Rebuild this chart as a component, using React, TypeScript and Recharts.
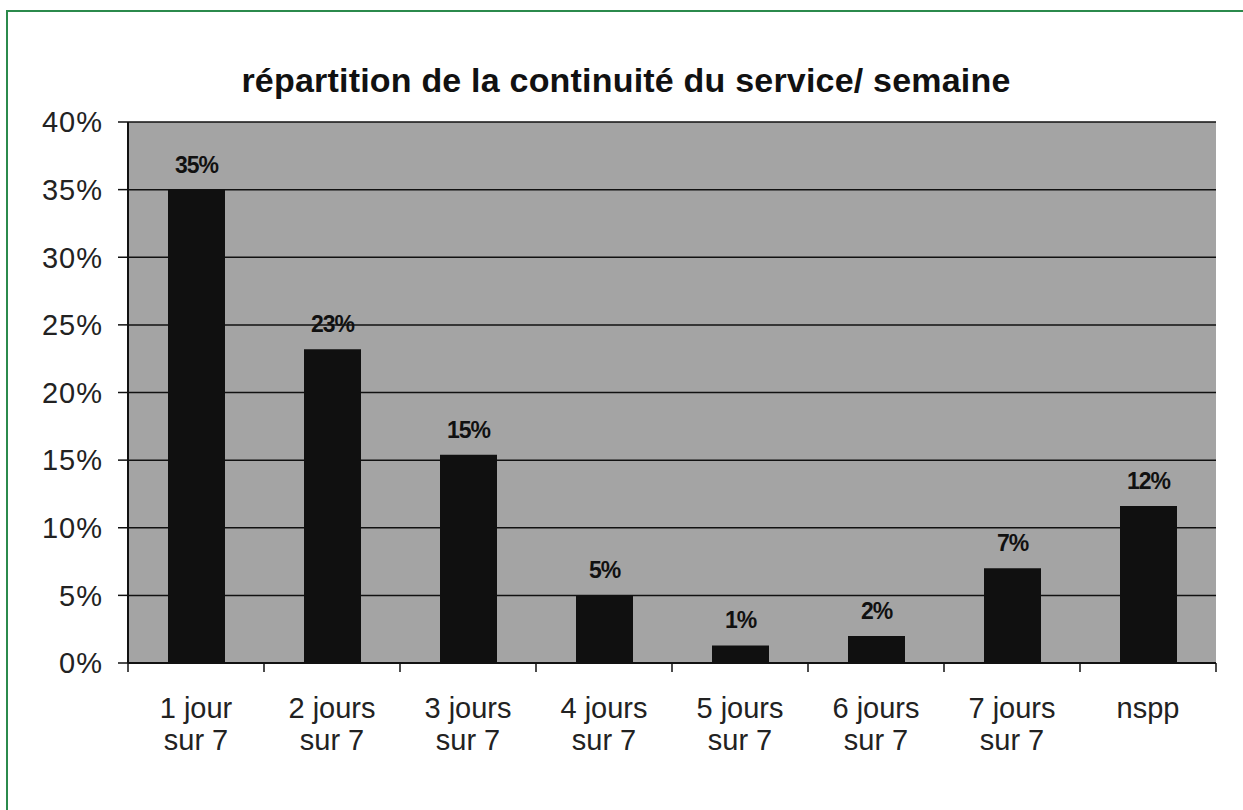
import React from "react";
import { BarChart, Bar, XAxis, YAxis, CartesianGrid, LabelList } from "recharts";

const categories = [
  ["1 jour", "sur 7"],
  ["2 jours", "sur 7"],
  ["3 jours", "sur 7"],
  ["4 jours", "sur 7"],
  ["5 jours", "sur 7"],
  ["6 jours", "sur 7"],
  ["7 jours", "sur 7"],
  ["nspp", ""],
];
const values = [35, 23.2, 15.4, 5, 1.3, 2, 7, 11.6];
const yTicks = [0, 5, 10, 15, 20, 25, 30, 35, 40];
const title = "répartition de la continuité du service/ semaine";

const data = categories.map((c, i) => ({ name: c.join(" "), value: values[i] }));

const FONT = "'Liberation Sans', Arial, sans-serif";

const CatTick = (props: any) => {
  const { x, y, payload, index } = props;
  const i = payload.index ?? index;
  const c = categories[i] || ["", ""];
  const half = payload.offset || 0;
  return (
    <g>
      <line x1={x - half} x2={x - half} y1={y} y2={y + 9} stroke="#111" strokeWidth={1.5} />
      {i === categories.length - 1 && (
        <line x1={x + half} x2={x + half} y1={y} y2={y + 9} stroke="#111" strokeWidth={1.5} />
      )}
      <text x={x} y={y + 55} textAnchor="middle" fontFamily={FONT} fontSize={29} fill="#222">
        {c[0]}
      </text>
      <text x={x} y={y + 87} textAnchor="middle" fontFamily={FONT} fontSize={29} fill="#222">
        {c[1]}
      </text>
    </g>
  );
};

export default function App() {
  return (
    <div style={{ position: "absolute", left: 0, top: 0, width: 1243, height: 810, overflow: "hidden", background: "#fff" }}>
      <div style={{ position: "absolute", left: 6, top: 10, width: 1300, height: 900, border: "2px solid #2b8a4c" }} />
      <svg style={{ position: "absolute", left: 0, top: 0 }} width={1243} height={810}>
        <text x={626} y={92} textAnchor="middle" fontFamily={FONT} fontWeight="bold" fontSize={34} letterSpacing={0.2} fill="#111">
          {title}
        </text>
      </svg>
      <div style={{ position: "absolute", left: 0, top: 0 }}>
        <BarChart width={1243} height={810} data={data} margin={{ top: 122, right: 27, bottom: 47, left: 0 }} barSize={57}>
          <CartesianGrid vertical={false} stroke="#111" strokeWidth={1.5} fill="#a4a4a4" fillOpacity={1} />
          <XAxis
            dataKey="name"
            interval={0}
            tick={<CatTick />}
            tickLine={false}
            tickSize={0}
            tickMargin={0}
            axisLine={{ stroke: "#111", strokeWidth: 2 }}
            height={100}
          />
          <YAxis
            domain={[0, 40]}
            ticks={yTicks}
            interval={0}
            tickFormatter={(v: number) => `${v}%`}
            width={128}
            tickSize={10}
            tickMargin={15}
            tick={{ fontFamily: FONT, fontSize: 29, fill: "#222", letterSpacing: 1 }}
            axisLine={{ stroke: "#111", strokeWidth: 2 }}
            tickLine={{ stroke: "#111", strokeWidth: 1.5 }}
          />
          <YAxis
            yAxisId="r"
            orientation="right"
            domain={[0, 40]}
            width={0}
            tick={false}
            tickLine={false}
            axisLine={{ stroke: "#444", strokeWidth: 2 }}
          />
          <Bar dataKey="value" fill="#101010" isAnimationActive={false}>
            <LabelList
              dataKey="value"
              position="top"
              offset={17}
              formatter={(v: any) => `${Math.round(Number(v))}%`}
              style={{ fontFamily: FONT, fontSize: 23, fontWeight: "bold", fill: "#111", letterSpacing: -1 }}
            />
          </Bar>
        </BarChart>
      </div>
    </div>
  );
}
